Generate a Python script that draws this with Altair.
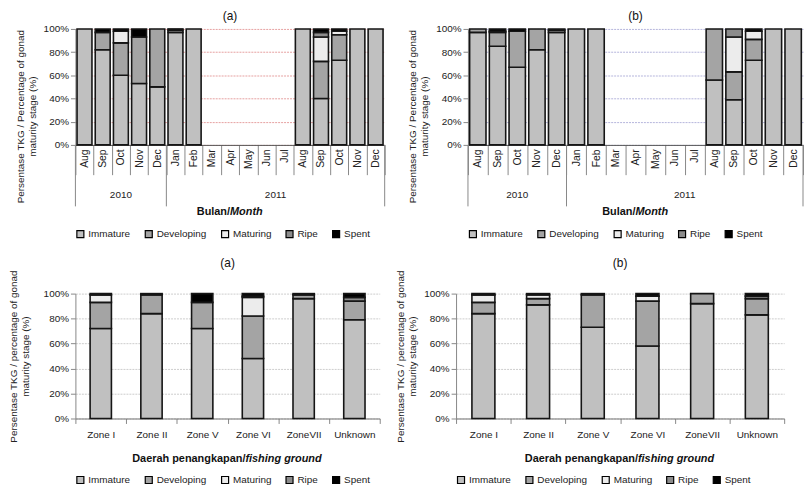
import altair as alt
import pandas as pd

FONT = "Liberation Sans, Arial, sans-serif"

stages = ["Immature", "Developing", "Maturing", "Ripe", "Spent"]
stage_colors = ["#c0c0c0", "#a4a4a4", "#ececec", "#8c8c8c", "#000000"]

months = ["Aug 2010", "Sep 2010", "Oct 2010", "Nov 2010", "Dec 2010",
          "Jan 2011", "Feb 2011", "Mar 2011", "Apr 2011", "May 2011", "Jun 2011", "Jul 2011",
          "Aug 2011", "Sep 2011", "Oct 2011", "Nov 2011", "Dec 2011"]
years = ["2010", "2011"]

# panel (a), by month
a_month_immature = [100, 82, 60, 53, 50, 97, 100, 0, 0, 0, 0, 0, 100, 40, 73, 100, 100]
a_month_developing = [0, 15, 28, 40, 50, 2, 0, 0, 0, 0, 0, 0, 0, 32, 22, 0, 0]
a_month_maturing = [0, 0, 10, 0, 0, 0, 0, 0, 0, 0, 0, 0, 0, 21, 3, 0, 0]
a_month_ripe = [0, 0, 0, 0, 0, 0, 0, 0, 0, 0, 0, 0, 0, 4, 0, 0, 0]
a_month_spent = [0, 3, 2, 7, 0, 1, 0, 0, 0, 0, 0, 0, 0, 3, 2, 0, 0]

# panel (b), by month
b_month_immature = [97, 85, 67, 82, 97, 100, 100, 0, 0, 0, 0, 0, 56, 39, 73, 100, 100]
b_month_developing = [3, 12, 31, 18, 2, 0, 0, 0, 0, 0, 0, 0, 44, 24, 18, 0, 0]
b_month_maturing = [0, 1, 0, 0, 0, 0, 0, 0, 0, 0, 0, 0, 0, 30, 7, 0, 0]
b_month_ripe = [0, 0, 0, 0, 0, 0, 0, 0, 0, 0, 0, 0, 0, 7, 0, 0, 0]
b_month_spent = [0, 2, 2, 0, 1, 0, 0, 0, 0, 0, 0, 0, 0, 0, 2, 0, 0]

zones = ["Zone I", "Zone II", "Zone V", "Zone VI", "ZoneVII", "Unknown"]

# panel (a), by fishing ground
a_zone_immature = [72, 84, 72, 48, 96, 79]
a_zone_developing = [21, 15, 21, 34, 3, 15]
a_zone_maturing = [6, 0, 0, 15, 0, 0]
a_zone_ripe = [0, 0, 0, 1, 0, 3]
a_zone_spent = [1, 1, 7, 2, 1, 3]

# panel (b), by fishing ground
b_zone_immature = [84, 91, 73, 58, 92, 83]
b_zone_developing = [9, 5, 26, 36, 8, 13]
b_zone_maturing = [6, 3, 0, 4, 0, 0]
b_zone_ripe = [0, 0, 0, 0, 0, 2]
b_zone_spent = [1, 1, 1, 2, 0, 2]


def long_df(cats, series):
    rows = []
    for k, (stage, vals) in enumerate(zip(stages, series)):
        for c, v in zip(cats, vals):
            rows.append({"cat": c, "stage": stage, "idx": k, "value": v})
    return pd.DataFrame(rows)


def panel(cats, series, width, height, bar_band, title, title_offset, ytitle, ytitle_y,
          ytitle_pad, grid_color, legend_y, xtitle_parts, xtitle_y, split_dx, monthly):
    df = long_df(cats, series)
    xscale = alt.Scale(domain=cats, paddingInner=0, paddingOuter=0)
    if monthly:
        xaxis = alt.Axis(title=None, labelAngle=270, labelExpr="split(datum.label, ' ')[0]",
                         tickBand="extent", tickSize=30, tickColor="#888888",
                         domainColor="#555555", labelFontSize=10.5, labelPadding=-26,
                         labelColor="#222222", grid=False, labelOverlap=False)
    else:
        xaxis = alt.Axis(title=None, labelAngle=0, tickBand="extent", tickSize=5,
                         tickColor="#888888", domainColor="#777777", labelFontSize=10,
                         labelPadding=6, labelColor="#222222", grid=False,
                         labelOverlap=False)
    bars = alt.Chart(df).transform_filter("datum.value > 0").mark_bar(
        width=alt.RelativeBandSize(bar_band), stroke="#151515", strokeWidth=1.6
    ).encode(
        x=alt.X("cat:N", scale=xscale, sort=cats, axis=xaxis),
        y=alt.Y("value:Q", stack="zero", scale=alt.Scale(domain=[0, 100], nice=False),
                axis=alt.Axis(values=[0, 20, 40, 60, 80, 100], labelExpr="datum.value + '%'",
                              title=ytitle, titleFontWeight="normal", titleFontSize=10,
                              titleColor="#222222", titlePadding=ytitle_pad, titleY=ytitle_y,
                              labelFontSize=10, labelColor="#222222", tickColor="#888888",
                              tickSize=5, domainColor="#888888", gridColor=grid_color,
                              gridDash=[2, 1], gridWidth=1)),
        color=alt.Color("stage:N", scale=alt.Scale(domain=stages, range=stage_colors),
                        legend=alt.Legend(title=None, orient="none", legendX=0, legendY=legend_y,
                                          direction="horizontal", symbolType="square",
                                          symbolSize=50, symbolStrokeColor="#000000",
                                          symbolStrokeWidth=1.2, labelFontSize=10,
                                          labelColor="#222222", columnPadding=12,
                                          labelOffset=3)),
        order=alt.Order("idx:Q", sort="ascending"),
    )
    layers = [bars]
    t1 = alt.Chart(pd.DataFrame({"t": [xtitle_parts[0]]})).mark_text(
        align="right", baseline="middle", fontWeight="bold", fontSize=11, color="#111111"
    ).encode(text="t:N", x=alt.value(width / 2 + split_dx), y=alt.value(xtitle_y))
    t2 = alt.Chart(pd.DataFrame({"t": [xtitle_parts[1]]})).mark_text(
        align="left", baseline="middle", fontWeight="bold", fontStyle="italic", fontSize=11,
        color="#111111"
    ).encode(text="t:N", x=alt.value(width / 2 + split_dx), y=alt.value(xtitle_y))
    layers += [t1, t2]
    if monthly:
        sep0 = alt.Chart(pd.DataFrame({"cat": ["Aug 2010", "Jan 2011"]})).mark_rule(
            color="#888888", strokeWidth=1
        ).encode(x=alt.X("cat:N", scale=xscale, bandPosition=0, title=None),
                 y=alt.value(height), y2=alt.value(height + 62))
        sep1 = alt.Chart(pd.DataFrame({"cat": ["Dec 2011"]})).mark_rule(
            color="#888888", strokeWidth=1
        ).encode(x=alt.X("cat:N", scale=xscale, bandPosition=1, title=None),
                 y=alt.value(height), y2=alt.value(height + 62))
        y2010 = alt.Chart(pd.DataFrame({"cat": ["Oct 2010"], "t": [years[0]]})).mark_text(
            fontSize=10, color="#222222"
        ).encode(x=alt.X("cat:N", scale=xscale, bandPosition=0.5, title=None),
                 y=alt.value(height + 51), text="t:N")
        y2011 = alt.Chart(pd.DataFrame({"cat": ["Jul 2011"], "t": [years[1]]})).mark_text(
            fontSize=10, color="#222222"
        ).encode(x=alt.X("cat:N", scale=xscale, bandPosition=0, title=None),
                 y=alt.value(height + 51), text="t:N")
        layers += [sep0, sep1, y2010, y2011]
    return alt.layer(*layers).properties(
        width=width, height=height,
        title=alt.TitleParams(title, fontSize=12, fontWeight="normal", offset=title_offset,
                              color="#111111"),
    )


ytitle_top = ["Persentase TKG / Percentage of gonad", "maturity stage (%)"]
ytitle_bot = ["Persentase TKG / percentage of gonad", "maturity stage (%)"]

A = panel(months, [a_month_immature, a_month_developing, a_month_maturing, a_month_ripe,
                   a_month_spent],
          312, 117, 0.82, "(a)", 1, ytitle_top, 88, 6, "#e6a0a0", 202, ["Bulan/", "Month"],
          185, 0, True)
B = panel(months, [b_month_immature, b_month_developing, b_month_maturing, b_month_ripe,
                   b_month_spent],
          338, 117, 0.83, "(b)", 1, ytitle_top, 88, 6, "#b4b4dc", 202, ["Bulan/", "Month"],
          185, 0, True)
C = panel(zones, [a_zone_immature, a_zone_developing, a_zone_maturing, a_zone_ripe,
                  a_zone_spent],
          307, 126, 0.42, "(a)", 0, ytitle_bot, 63, 13, "#cccccc", 183,
          ["Daerah penangkapan/", "fishing ground"], 167, 18, False)
D = panel(zones, [b_zone_immature, b_zone_developing, b_zone_maturing, b_zone_ripe,
                  b_zone_spent],
          331, 126, 0.42, "(b)", 0, ytitle_bot, 63, 6, "#cccccc", 183,
          ["Daerah penangkapan/", "fishing ground"], 167, 18, False)

top = alt.hconcat(A, B, spacing=22).resolve_scale(color="independent", x="independent",
                                                  y="independent")
bot = alt.hconcat(C, D, spacing=15).resolve_scale(color="independent", x="independent",
                                                  y="independent")
chart = alt.vconcat(top, bot, spacing=17).properties(
    padding={"left": 0, "top": 0, "right": 0, "bottom": 0}
).configure(font=FONT).configure_view(stroke=None)

chart.save("out.html", embed_options={"renderer": "svg", "actions": False})
